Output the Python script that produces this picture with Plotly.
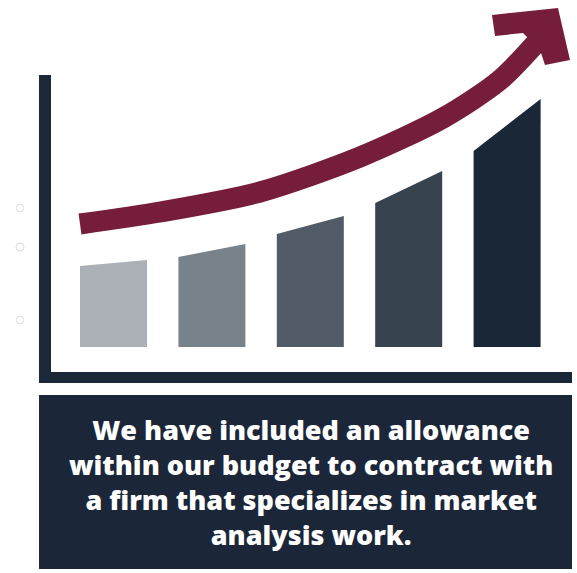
import plotly.graph_objects as go

# ---- data ----
categories = ["Stage 1", "Stage 2", "Stage 3", "Stage 4", "Stage 5"]
bar_left_height = [81, 90, 113, 144, 196]    # height of each bar at its left edge
bar_right_height = [87, 103, 131, 176, 248]  # height of each bar at its right edge
bar_colors = ["#abb1b7", "#78828b", "#505b67", "#37434f", "#1a2736"]

trend_x = [80, 160, 260, 360, 443, 500, 536]
trend_y = [123, 135, 155, 190, 229, 267, 304]

head_x = [492, 558, 570, 545, 540, 523, 495]
head_y = [332, 339, 287, 282, 297, 314, 311]

caption = ("We have included an allowance<br>within our budget to contract with<br>"
           "a firm that specializes in market<br>analysis work.")

# ---- layout constants ----
W, H = 577, 573
BASE_PX = 347
first_center, step, half_w = 113.5, 98.4, 33.5
dark = "#1b2838"
maroon = "#761d3c"

fig = go.Figure()

for i, cat in enumerate(categories):
    cx = first_center + step * i
    x0, x1 = cx - half_w, cx + half_w
    fig.add_trace(go.Scatter(
        x=[x0, x0, x1, x1, x0],
        y=[0, bar_left_height[i], bar_right_height[i], 0, 0],
        fill="toself", fillcolor=bar_colors[i], mode="lines",
        line=dict(width=0, color=bar_colors[i]), name=cat, hoverinfo="name"))

fig.add_trace(go.Scatter(
    x=trend_x, y=trend_y, mode="lines",
    line=dict(color=maroon, width=21, shape="spline", smoothing=0.8),
    hoverinfo="skip"))
fig.add_trace(go.Scatter(
    x=head_x + [head_x[0]], y=head_y + [head_y[0]], fill="toself",
    fillcolor=maroon, mode="lines", line=dict(width=0, color=maroon),
    hoverinfo="skip"))

# faint small circles at left
fig.add_trace(go.Scatter(
    x=[20, 20, 20], y=[BASE_PX - 208, BASE_PX - 247, BASE_PX - 320],
    mode="markers", marker=dict(symbol="circle-open", size=8,
                                color="#dcdcdc", line=dict(width=1)),
    hoverinfo="skip"))

def py(v):
    return BASE_PX - v

shapes = [
    dict(type="rect", x0=39, x1=51, y0=py(75), y1=py(383),
         fillcolor=dark, line=dict(width=0), layer="below"),
    dict(type="rect", x0=39, x1=572, y0=py(372), y1=py(383),
         fillcolor=dark, line=dict(width=0), layer="below"),
    dict(type="rect", x0=39, x1=572, y0=py(395), y1=py(569),
         fillcolor="#1b2638", line=dict(width=0), layer="below"),
]

fig.update_layout(
    width=W, height=H, margin=dict(l=0, r=0, t=0, b=0),
    paper_bgcolor="white", plot_bgcolor="white", showlegend=False,
    xaxis=dict(range=[0, W], visible=False, fixedrange=True),
    yaxis=dict(range=[BASE_PX - H, BASE_PX], visible=False, fixedrange=True),
    shapes=shapes,
    annotations=[dict(
        x=311, y=py(482), xref="x", yref="y", text=caption, showarrow=False,
        xanchor="center", yanchor="middle", align="center",
        font=dict(family="Open Sans", size=27, color="white", weight=800))],
)

fig.write_html("out.html")
